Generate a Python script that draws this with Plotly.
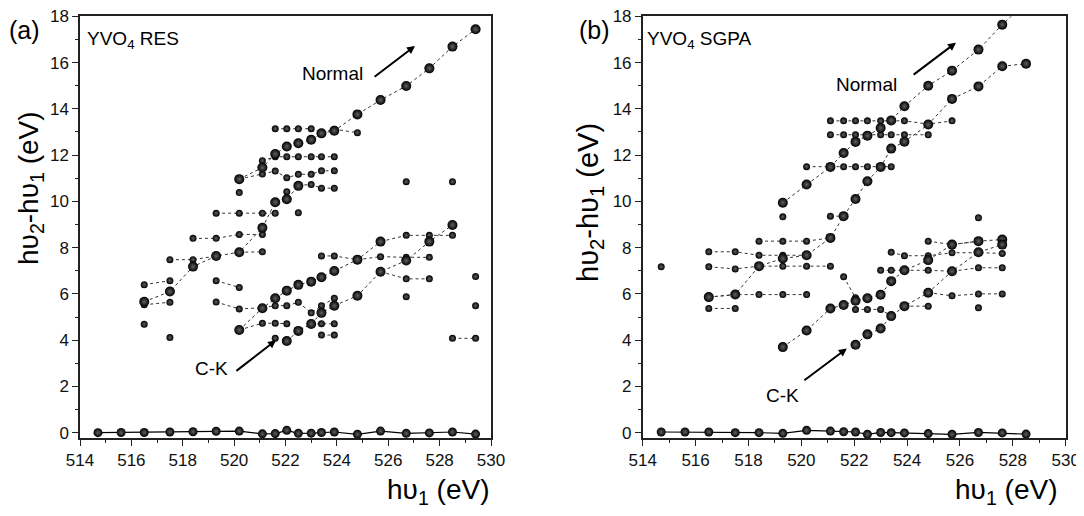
import plotly.graph_objects as go

# ---------------- data ----------------
E = [514.7, 515.6, 516.5, 517.5, 518.4, 519.3, 520.2, 521.1, 521.6, 522.05,
     522.5, 523.0, 523.4, 523.9, 524.8, 525.7, 526.7, 527.6, 528.5, 529.4]

# panel (a) YVO4 RES
a_elastic = [0.0, 0.01, 0.01, 0.03, 0.04, 0.06, 0.07, -0.05, -0.04, 0.10,
             -0.03, -0.02, 0.01, 0.03, -0.07, 0.07, -0.03, -0.01, 0.03, -0.06]
a_norm_up_x = [520.2, 521.1, 521.6, 522.05, 522.5, 523.0, 523.4, 523.9, 524.8, 525.7, 526.7, 527.6, 528.5, 529.4]
a_norm_up_y = [10.96, 11.46, 12.05, 12.37, 12.51, 12.66, 12.94, 13.05, 13.76, 14.38, 14.99, 15.75, 16.69, 17.44]
a_norm_lo_x = [516.5, 517.5, 518.4, 519.3, 520.2, 521.1, 521.6, 522.05, 522.5]
a_norm_lo_y = [5.66, 6.10, 7.18, 7.64, 7.80, 8.86, 9.96, 10.09, 10.67]
a_ck_up_x = [520.2, 521.1, 521.6, 522.05, 522.5, 523.0, 523.4, 523.9, 524.8, 525.7]
a_ck_up_y = [4.44, 5.38, 5.81, 6.14, 6.39, 6.53, 6.72, 6.99, 7.48, 8.26]
a_ck_lo_x = [522.05, 522.5, 523.0, 523.4, 523.9, 524.8, 525.7, 526.7, 527.6, 528.5]
a_ck_lo_y = [3.96, 4.40, 4.70, 5.18, 5.49, 5.92, 6.96, 7.44, 8.26, 8.98]
a_rows = [
    ([521.6, 522.05, 522.5, 523.0, 523.4, 523.9, 524.8], [13.14, 13.14, 13.14, 13.14, 12.97, 13.12, 12.97]),
    ([521.1, 521.6, 522.05, 522.5, 523.0, 523.4, 523.9], [11.76, 11.93, 11.93, 11.93, 11.93, 11.93, 11.93]),
    ([520.2, 521.1, 521.6, 522.05, 522.5, 523.0, 523.4, 523.9], [10.96, 11.18, 11.31, 11.02, 11.17, 11.17, 11.32, 11.32]),
    ([522.5, 523.0, 523.4, 523.9], [10.69, 10.73, 10.57, 10.57]),
    ([519.3, 520.2, 521.1, 521.6], [9.49, 9.49, 9.49, 9.49]),
    ([518.4, 519.3, 520.2, 521.1], [8.40, 8.40, 8.57, 8.57]),
    ([517.5, 518.4, 519.3], [7.48, 7.48, 7.64]),
    ([520.2, 521.1], [7.80, 7.82]),
    ([516.5, 517.5], [6.40, 6.57]),
    ([516.5, 517.5], [5.53, 5.64]),
    ([519.3, 520.2], [6.57, 6.28]),
    ([519.3, 520.2, 521.1, 521.6, 522.05, 522.5, 523.0, 523.4, 523.9], [5.65, 5.35, 5.40, 5.49, 5.49, 5.64, 5.18, 5.49, 5.81]),
    ([520.2, 521.1, 521.6, 522.05], [4.44, 4.73, 4.73, 4.71]),
    ([523.0, 523.4, 523.9], [4.70, 4.71, 4.71]),
    ([523.4, 523.9], [4.22, 4.22]),
    ([523.4, 523.9, 524.8], [7.64, 7.64, 7.48]),
    ([524.8, 525.7, 526.7, 527.6], [7.48, 7.61, 7.58, 7.58]),
    ([525.7, 526.7, 527.6], [6.96, 6.65, 6.65]),
    ([525.7, 526.7, 527.6, 528.5], [8.26, 8.53, 8.53, 8.53]),
    ([528.5, 529.4], [4.08, 4.08]),
]
a_single_x = [516.5, 517.5, 520.2, 522.05, 522.5, 521.6, 526.7, 526.7, 528.5, 529.4, 529.4]
a_single_y = [4.69, 4.11, 10.38, 10.42, 9.51, 4.08, 5.88, 10.85, 10.85, 6.75, 5.49]

# panel (b) YVO4 SGPA
b_elastic = [0.03, 0.03, 0.03, 0.0, 0.0, -0.03, 0.10, 0.07, 0.04, 0.03,
             -0.07, 0.01, 0.0, -0.01, -0.04, -0.07, 0.01, -0.01, -0.06]
b_norm_up_x = [519.3, 520.2, 521.1, 521.6, 522.05, 522.5, 523.0, 523.4, 523.9, 524.8, 525.7, 526.7, 527.6, 528.5]
b_norm_up_y = [9.94, 10.73, 11.49, 12.09, 12.57, 12.84, 13.17, 13.50, 14.11, 15.0, 15.65, 16.56, 17.64, 18.6]
b_norm_lo_x = [516.5, 517.5, 518.4, 519.3, 520.2, 521.1, 521.6, 522.05, 522.5, 523.0, 523.4, 523.9, 524.8, 525.7, 526.7, 527.6, 528.5]
b_norm_lo_y = [5.86, 5.97, 7.20, 7.53, 7.67, 8.42, 9.36, 10.10, 10.87, 11.49, 12.28, 12.58, 13.32, 14.43, 14.97, 15.84, 15.95]
b_ck_up_x = [519.3, 520.2, 521.1, 521.6, 522.05, 522.5, 523.0, 523.4, 523.9, 524.8, 525.7, 526.7, 527.6]
b_ck_up_y = [3.70, 4.42, 5.37, 5.52, 5.70, 5.81, 5.96, 6.55, 7.02, 7.46, 8.13, 8.28, 8.35]
b_ck_lo_x = [522.05, 522.5, 523.0, 523.4, 523.9, 524.8, 525.7, 526.7, 527.6]
b_ck_lo_y = [3.80, 4.25, 4.50, 5.04, 5.47, 6.05, 6.98, 7.80, 8.13]
b_rows = [
    ([521.1, 521.6, 522.05, 522.5, 523.0, 523.4, 523.9, 524.8, 525.7], [13.48, 13.48, 13.48, 13.48, 13.48, 13.48, 13.48, 13.34, 13.48]),
    ([521.1, 521.6, 522.05, 522.5, 523.0, 523.4, 523.9, 524.8], [12.88, 12.88, 12.88, 12.88, 12.88, 12.88, 12.88, 12.88]),
    ([520.2, 521.1, 521.6, 522.05, 522.5, 523.0, 523.4], [11.50, 11.50, 11.50, 11.50, 11.50, 11.50, 11.50]),
    ([521.1, 521.6], [9.36, 9.36]),
    ([518.4, 519.3, 520.2, 521.1], [8.28, 8.28, 8.28, 8.42]),
    ([516.5, 517.5, 518.4, 519.3, 520.2], [7.82, 7.82, 7.67, 7.67, 7.67]),
    ([516.5, 517.5, 518.4, 519.3, 520.2, 521.1], [7.17, 7.08, 7.20, 7.20, 7.20, 7.20]),
    ([516.5, 517.5, 518.4, 519.3, 520.2], [5.86, 5.97, 5.97, 5.97, 5.97]),
    ([516.5, 517.5], [5.37, 5.37]),
    ([521.6, 522.05], [6.74, 5.83]),
    ([522.05, 522.5, 523.0, 523.4], [5.33, 5.33, 5.33, 5.04]),
    ([523.0, 523.4, 523.9, 524.8, 525.7, 526.7, 527.6], [7.02, 7.02, 7.02, 7.02, 6.98, 7.13, 7.13]),
    ([523.4, 523.9, 524.8, 525.7, 526.7, 527.6], [7.80, 7.65, 7.65, 7.78, 7.78, 7.75]),
    ([524.8, 525.7, 526.7, 527.6], [6.05, 5.92, 6.00, 6.00]),
    ([523.9, 524.8], [5.47, 5.47]),
    ([524.8, 525.7, 526.7], [8.28, 8.13, 8.28]),
]
b_single_x = [514.7, 519.3, 526.7, 526.7]
b_single_y = [7.17, 9.33, 9.29, 5.40]

# ---------------- styling ----------------
FONT = "Liberation Sans, Arial, sans-serif"
OFF = 8                      # page body margin offset (px)
W, H = 1084 - OFF, 516 - OFF
S_SIZE, L_SIZE = 7, 10
DOT = dict(color="#333333", width=1, dash="dot")


def ball(size):
    return dict(color="black", size=size, line=dict(width=0),
                gradient=dict(type="radial", color="#606060"))


fig = go.Figure()


def add_panel(xa, ya, rows, singles, diags, elastic_x, elastic_y):
    for xs, ys in rows:
        fig.add_trace(go.Scatter(x=xs, y=ys, mode="lines+markers", line=DOT,
                                 marker=ball(S_SIZE), xaxis=xa, yaxis=ya,
                                 showlegend=False, hoverinfo="skip"))
    fig.add_trace(go.Scatter(x=singles[0], y=singles[1], mode="markers",
                             marker=ball(S_SIZE), xaxis=xa, yaxis=ya,
                             showlegend=False, hoverinfo="skip"))
    for xs, ys in diags:
        fig.add_trace(go.Scatter(x=xs, y=ys, mode="lines+markers", line=DOT,
                                 marker=ball(L_SIZE), xaxis=xa, yaxis=ya,
                                 showlegend=False, hoverinfo="skip"))
    fig.add_trace(go.Scatter(x=elastic_x, y=elastic_y, mode="lines+markers",
                             line=dict(color="black", width=1.2),
                             marker=ball(L_SIZE - 1), xaxis=xa, yaxis=ya,
                             showlegend=False, hoverinfo="skip"))


add_panel("x", "y", a_rows, (a_single_x, a_single_y),
          [(a_norm_lo_x, a_norm_lo_y), (a_norm_up_x, a_norm_up_y),
           (a_ck_up_x, a_ck_up_y), (a_ck_lo_x, a_ck_lo_y)],
          E, a_elastic)
add_panel("x2", "y2", b_rows, (b_single_x, b_single_y),
          [(b_norm_lo_x, b_norm_lo_y), (b_norm_up_x, b_norm_up_y),
           (b_ck_up_x, b_ck_up_y), (b_ck_lo_x, b_ck_lo_y)],
          E[:19], b_elastic)


def px(x):
    return (x - OFF) / W


def py(y):
    return 1 - (y - OFF) / H


ydom = [py(438), py(16.3)]
MINOR = dict(dtick=1, ticks="outside", ticklen=3, tickcolor="#222")
axis_common = dict(showline=True, linecolor="#222", linewidth=1.5, mirror=True,
                   ticks="outside", ticklen=6, tickwidth=1.3, tickcolor="#222",
                   showgrid=False, zeroline=False, automargin=False,
                   ticklabeloverflow="allow",
                   tickfont=dict(family=FONT, size=17, color="#111"))
fig.update_layout(
    xaxis=dict(domain=[px(80), px(491)], range=[514, 530], dtick=2, anchor="y",
               minor=MINOR, **axis_common),
    yaxis=dict(domain=ydom, range=[-0.23, 18], dtick=2, anchor="x",
               minor=MINOR, **axis_common),
    xaxis2=dict(domain=[px(642.7), px(1065.7)], range=[514, 530], dtick=2, anchor="y2",
                minor=MINOR, **axis_common),
    yaxis2=dict(domain=ydom, range=[-0.23, 18], dtick=2, anchor="x2",
                minor=MINOR, **axis_common),
)

ann = []
TXT = dict(family=FONT, color="black")
C = dict(xanchor="center", yanchor="middle", showarrow=False)
# panel labels and sample names
ann.append(dict(text="(a)", x=px(24), y=py(30), xref="paper", yref="paper",
                font=dict(size=25, **TXT), **C))
ann.append(dict(text="(b)", x=px(594), y=py(30), xref="paper", yref="paper",
                font=dict(size=25, **TXT), **C))
ann.append(dict(text="YVO<sub>4</sub> RES", x=px(85), y=py(26), xref="paper", yref="paper",
                xanchor="left", yanchor="top", showarrow=False, font=dict(size=19, **TXT)))
ann.append(dict(text="YVO<sub>4</sub> SGPA", x=px(645), y=py(26), xref="paper", yref="paper",
                xanchor="left", yanchor="top", showarrow=False, font=dict(size=19, **TXT)))
# axis titles
ytitle = "hυ<sub>2</sub>-hυ<sub>1</sub> (eV)"
xtitle = "hυ<sub>1</sub> (eV)"
ann.append(dict(text=ytitle, x=px(30), y=py(188), xref="paper", yref="paper", textangle=-90,
                font=dict(size=28, **TXT), **C))
ann.append(dict(text=ytitle, x=px(590), y=py(203), xref="paper", yref="paper", textangle=-90,
                font=dict(size=29, **TXT), **C))
ann.append(dict(text=xtitle, x=px(438), y=py(491), xref="paper", yref="paper",
                font=dict(size=28, **TXT), **C))
ann.append(dict(text=xtitle, x=px(1006), y=py(491), xref="paper", yref="paper",
                font=dict(size=28, **TXT), **C))
# Normal / C-K labels with arrows
ann.append(dict(text="Normal", x=523.83, y=15.53, xref="x", yref="y",
                font=dict(size=19, **TXT), **C))
ann.append(dict(text="C-K", x=519.12, y=2.78, xref="x", yref="y",
                font=dict(size=19, **TXT), **C))
ann.append(dict(text="Normal", x=522.46, y=15.05, xref="x2", yref="y2",
                font=dict(size=19, **TXT), **C))
ann.append(dict(text="C-K", x=519.29, y=1.61, xref="x2", yref="y2",
                font=dict(size=19, **TXT), **C))
ARROW = dict(text="", showarrow=True, arrowhead=2, arrowsize=0.8, arrowwidth=2, arrowcolor="black")
ann.append(dict(x=527.04, y=16.72, ax=525.41, ay=15.34, xref="x", yref="y", axref="x", ayref="y", **ARROW))
ann.append(dict(x=521.63, y=4.0, ax=520.03, ay=2.62, xref="x", yref="y", axref="x", ayref="y", **ARROW))
ann.append(dict(x=525.85, y=16.86, ax=524.19, ay=15.43, xref="x2", yref="y2", axref="x2", ayref="y2", **ARROW))
ann.append(dict(x=521.72, y=3.64, ax=520.06, ay=2.22, xref="x2", yref="y2", axref="x2", ayref="y2", **ARROW))

fig.update_layout(width=W, height=H, margin=dict(l=0, r=0, t=0, b=0),
                  paper_bgcolor="white", plot_bgcolor="white",
                  annotations=ann, showlegend=False, template="none")
fig.write_html("out.html")
